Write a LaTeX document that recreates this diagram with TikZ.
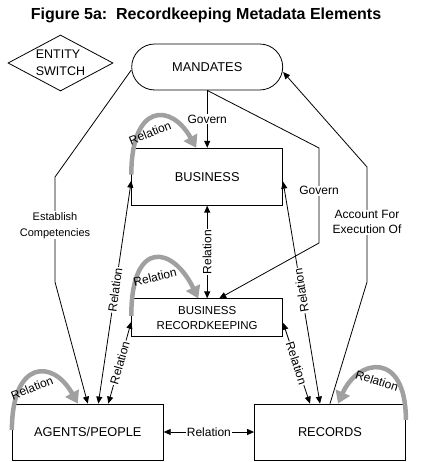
\documentclass[tikz,border=0pt]{standalone}
\usepackage{fontspec}
\setmainfont{Liberation Sans}
\usetikzlibrary{shapes.geometric,arrows.meta}
\definecolor{loopgray}{RGB}{160,160,160}

\begin{document}
\begin{tikzpicture}[x=1pt, y=-1pt,
    entity/.style={draw, line width=0.8pt, minimum width=151pt, inner sep=0pt, font=\fontsize{12.8}{15}\selectfont},
    lab/.style={fill=white, inner sep=1pt, font=\fontsize{12}{15}\selectfont},
    looplab/.style={inner sep=0pt, font=\fontsize{12}{15}\selectfont},
    link/.style={line width=0.8pt, -{Triangle[length=7pt,width=6pt]}},
    both/.style={line width=0.8pt, {Triangle[length=7pt,width=6pt]}-{Triangle[length=7pt,width=6pt]}},
    selfloop/.style={line width=4.5pt, draw=loopgray, -{Triangle[length=12pt,width=15pt]}}]
    \useasboundingbox (0,0) rectangle (420,462);

    % Title
    \node[font=\bfseries\fontsize{16}{18}\selectfont] (title) at (206,15) {Figure 5a:\ \ Recordkeeping Metadata Elements};

    % Legend
    \node[draw, diamond, aspect=1.9, inner sep=0pt, minimum width=105pt, minimum height=56pt,
          line width=0.8pt, align=left, font=\fontsize{12.5}{17}\selectfont] (switch) at (60.5,63) {ENTITY\\SWITCH};

    % Entities
    \node[entity, minimum height=46pt, rounded corners=23pt] (mandates) at (207.2,67) {MANDATES};
    \node[entity, minimum height=57pt] (business) at (207.2,176.7) {BUSINESS};
    \node[entity, minimum height=38pt, align=center, font=\fontsize{11.5}{14.5}\selectfont] (brk) at (207.2,317.8) {BUSINESS\\RECORDKEEPING};
    \node[entity, minimum height=56pt] (agents) at (87.8,432) {AGENTS/PEOPLE};
    \node[entity, minimum height=56pt] (records) at (330,432) {RECORDS};

    % Mandates
    \draw[link] (mandates.south) -- node[lab] {Govern} (business.north);
    \draw[link] (mandates.south) -- (319,148) -- node[lab, pos=0.45] {Govern} (319,243) -- ([xshift=12pt]brk.north);
    \draw[link] ([yshift=-3pt]mandates.west) -- (55,177)
        -- node[lab, pos=0.46, align=center, font=\fontsize{11}{16}\selectfont] {Establish\\Competencies} (55,282) -- (agents.north);
    \draw[link] (records.north) -- (367,282)
        -- node[lab, pos=0.52, align=center] {Account For\\Execution Of} (367,167) -- ([yshift=-5pt]mandates.east);

    % Relations
    \draw[both] (business.south) -- node[lab, rotate=90] {Relation} (brk.north);
    \draw[both] (agents.east) -- node[lab] {Relation} (records.west);
    \draw[both] ([yshift=-4pt]business.west) -- node[lab, pos=0.49, rotate=82] {Relation} ([xshift=10.5pt]agents.north);
    \draw[both] ([yshift=-4pt]brk.west) -- node[lab, rotate=74] {Relation} ([xshift=20.5pt]agents.north);
    \draw[both] ([yshift=-5pt]business.east) -- node[lab, pos=0.49, rotate=99] {Relation} ([xshift=-10pt]records.north);
    \draw[both] ([yshift=-5pt]brk.east) -- node[lab, pos=0.5, rotate=-72] {Relation} ([xshift=-20pt]records.north);

    % Self relations
    \draw[selfloop] ([yshift=2pt]business.west) .. controls +(0,-72) and +(-25,-45) .. ([xshift=-11pt]business.north);
    \draw[selfloop] ([yshift=2pt]brk.west) .. controls +(0,-78) and +(-25,-52) .. ([xshift=-9pt]brk.north);
    \draw[selfloop] ([yshift=2pt]agents.west) .. controls +(0,-70) and +(-25,-45) .. ([xshift=-10pt]agents.north);
    \draw[selfloop] ([yshift=12pt]records.east) .. controls +(0,-70) and +(20,-45) .. ([xshift=8pt]records.north);
    \node[looplab, rotate=22] (lbus) at (150,133) {Relation};
    \node[looplab, rotate=14] (lbrk) at (155,277) {Relation};
    \node[looplab, rotate=22] (lagt) at (32,388) {Relation};
    \node[looplab, rotate=-18] (lrec) at (377,381) {Relation};
\end{tikzpicture}
\end{document}
